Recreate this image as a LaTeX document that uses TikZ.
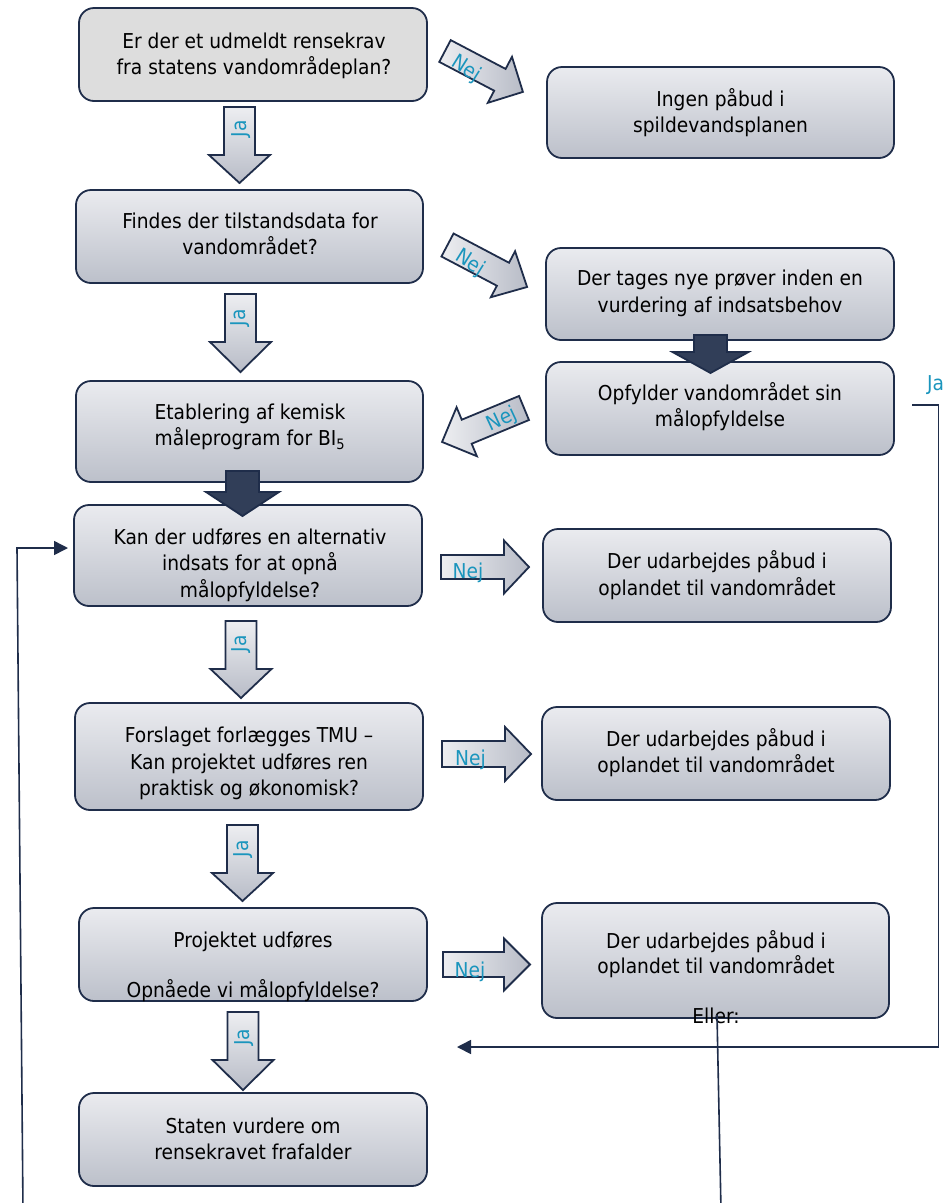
\documentclass[tikz,border=0pt]{standalone}
\usepackage{fontspec}
\setmainfont{DejaVu Sans}[FakeStretch=0.91]
\usetikzlibrary{arrows.meta,calc}
\definecolor{navy}{HTML}{1F2D4A}
\definecolor{tealtxt}{HTML}{1A95BD}
\definecolor{boxtop}{HTML}{EAEBEF}
\definecolor{boxbot}{HTML}{BCC0CA}
\definecolor{flatgray}{HTML}{DDDDDD}
\definecolor{arrlight}{HTML}{EDEEF1}
\definecolor{arrdark}{HTML}{B8BCC7}
\tikzset{
  flowbox/.style={draw=navy, line width=1.8pt, rounded corners=15pt, top color=boxtop, bottom color=boxbot, inner sep=0pt},
  flatbox/.style={draw=navy, line width=1.8pt, rounded corners=15pt, fill=flatgray, inner sep=0pt},
  boxtext/.style={align=center, font=\fontsize{20.5}{26.5}\selectfont, inner sep=0pt, text=black},
  boxtextb/.style={align=center, font=\fontsize{20.5}{25}\selectfont, inner sep=0pt, text=black},
  lbl/.style={text=tealtxt, font=\fontsize{20.5}{22}\selectfont, inner sep=0pt},
  downarr/.style={draw=navy, line width=1.8pt, top color=arrlight, bottom color=arrdark},
  sidearr/.style={draw=navy, line width=1.8pt, left color=arrlight, right color=arrdark},
  darkarr/.style={draw=navy, line width=1.8pt, fill=navy!92!white},
  link/.style={draw=navy, line width=1.6pt},
  linktip/.style={-{Triangle[length=14pt,width=14pt]}}
}
% down block arrow: style, cx, top, head start, tip, shaft half, head half
\newcommand\DArrow[7]{\path[#1] ({#2-#6},#3) -- ({#2+#6},#3) -- ({#2+#6},#4) -- ({#2+#7},#4) -- (#2,#5) -- ({#2-#7},#4) -- ({#2-#6},#4) -- cycle;}
% right block arrow: x0, head start x, tip x, cy, shaft half, head half
\newcommand\RArrow[6]{\path[sidearr] (#1,{#4-#5}) -- (#2,{#4-#5}) -- (#2,{#4-#6}) -- (#3,#4) -- (#2,{#4+#6}) -- (#2,{#4+#5}) -- (#1,{#4+#5}) -- cycle;}
% slanted block arrow: x, y (tail middle), angle, shaft length, shaft half, head length, head half
\newcommand\SArrow[7]{\begin{scope}[shift={(#1,#2)},rotate=#3]
\path[sidearr] (0,-#5) -- (#4,-#5) -- (#4,-#7) -- ({#4+#6},0) -- (#4,#7) -- (#4,#5) -- (0,#5) -- cycle;
\end{scope}}
\begin{document}
\begin{tikzpicture}[x=1pt,y=-1pt]
\useasboundingbox (0,0) rectangle (943,1203);
\fill[white] (0,0) rectangle (943,1203);

% boxes
\node[flatbox, minimum width=348, minimum height=93] (A) at (253,54.5) {};
\node[flowbox, minimum width=347, minimum height=91] (B) at (720.5,112.5) {};
\node[flowbox, minimum width=347, minimum height=93] (C) at (249.5,236.5) {};
\node[flowbox, minimum width=348, minimum height=92] (D) at (720,294) {};
\node[flowbox, minimum width=348, minimum height=93] (E) at (720,408.5) {};
\node[flowbox, minimum width=347, minimum height=101] (F) at (249.5,431.5) {};
\node[flowbox, minimum width=348, minimum height=101] (G) at (248,555.5) {};
\node[flowbox, minimum width=348, minimum height=93] (H) at (717,575.5) {};
\node[flowbox, minimum width=348, minimum height=107] (I) at (249,756.5) {};
\node[flowbox, minimum width=348, minimum height=93] (J) at (716,753.5) {};
\node[flowbox, minimum width=348, minimum height=93] (K) at (253,954.5) {};
\node[flowbox, minimum width=347, minimum height=115] (L) at (715.5,960.5) {};
\node[flowbox, minimum width=348, minimum height=93] (M) at (253,1139.5) {};

% box texts
\node[boxtext] (At) at (254,56) {Er der et udmeldt rensekrav\\fra statens vandområdeplan?};
\node[boxtext] (Bt) at (720.5,112.5) {Ingen påbud i\\spildevandsplanen};
\node[boxtext] (Ct) at (250,234) {Findes der tilstandsdata for\\vandområdet?};
\node[boxtext] (Dt) at (720,293.5) {Der tages nye prøver inden en\\vurdering af indsatsbehov};
\node[boxtext] (Et) at (720,406.5) {Opfylder vandområdet sin\\målopfyldelse};
\node[boxtext] (Ft) at (250,427) {Etablering af kemisk\\måleprogram for BI\textsubscript{5}};
\node[boxtext] (Gt) at (250,565) {Kan der udføres en alternativ\\indsats for at opnå\\målopfyldelse?};
\node[boxtext] (Ht) at (717,575) {Der udarbejdes påbud i\\oplandet til vandområdet};
\node[boxtext] (It) at (249,763.5) {Forslaget forlægges TMU –\\Kan projektet udføres ren\\praktisk og økonomisk?};
\node[boxtext] (Jt) at (716,752.5) {Der udarbejdes påbud i\\oplandet til vandområdet};
\node[boxtextb] (Kt) at (253,966.5) {Projektet udføres\\[25pt]Opnåede vi målopfyldelse?};
\node[boxtextb] (Lt) at (716,977.5) {Der udarbejdes påbud i\\oplandet til vandområdet\\[25pt]Eller:};
\node[boxtext] (Mt) at (253,1139) {Staten vurdere om\\rensekravet frafalder};

% Ja (down) block arrows
\DArrow{downarr}{239.5}{107}{155}{183}{15.5}{30.5}
\DArrow{downarr}{240.5}{294}{342}{372}{15.5}{30.5}
\DArrow{downarr}{241}{621}{669}{698}{15.5}{30.5}
\DArrow{downarr}{242.5}{825}{873}{901}{15.5}{30.5}
\DArrow{downarr}{243}{1012}{1060}{1090}{15.5}{30.5}
\node[lbl, rotate=90] (ja1) at (241,129) {Ja};
\node[lbl, rotate=90] (ja2) at (240.5,318) {Ja};
\node[lbl, rotate=90] (ja3) at (241.5,644) {Ja};
\node[lbl, rotate=90] (ja4) at (243.5,849) {Ja};
\node[lbl, rotate=90] (ja5) at (244,1037.5) {Ja};

% dark block arrows
\DArrow{darkarr}{710.5}{335}{352}{373}{16.5}{38}
\DArrow{darkarr}{242.5}{471}{492}{516}{16.5}{36.5}

% Nej block arrows
\RArrow{441}{504}{529}{567}{12}{26.5}
\RArrow{442}{505}{531}{754}{13}{27}
\RArrow{443}{504}{530}{964.5}{12.5}{26}
\SArrow{445}{51}{-27.7}{62}{12.3}{26}{26}
\SArrow{447.5}{245}{-27.8}{62.7}{13}{27.3}{26}
\SArrow{524}{408}{202.5}{62}{13}{26.7}{26.5}
\node[lbl] (nej1) at (468,572.5) {Nej};
\node[lbl] (nej2) at (470.5,760) {Nej};
\node[lbl] (nej3) at (470,972) {Nej};
\node[lbl, rotate=-32] (nej4) at (466,69) {Nej};
\node[lbl, rotate=-32] (nej5) at (470,263) {Nej};
\node[lbl, rotate=25] (nej6) at (502,420) {Nej};

% thin connectors
\node[lbl] (jaR) at (935.5,385) {Ja};
\coordinate (jaFrom) at (912,405);
\coordinate (jaTo) at (457,1047);
\draw[link, linktip] (jaFrom) -| (938.5,1047) -- (jaTo);
\coordinate (loopBottom) at (23,1210);
\coordinate (loopCorner) at (17,548);
\coordinate (loopTip) at (68,548);
\draw[link, linktip] (loopBottom) -- (loopCorner) -- (loopTip);
\coordinate (ellerTop) at (717,1015);
\coordinate (ellerBottom) at (721,1210);
\draw[link] (ellerTop) -- (ellerBottom);
\end{tikzpicture}
\end{document}
